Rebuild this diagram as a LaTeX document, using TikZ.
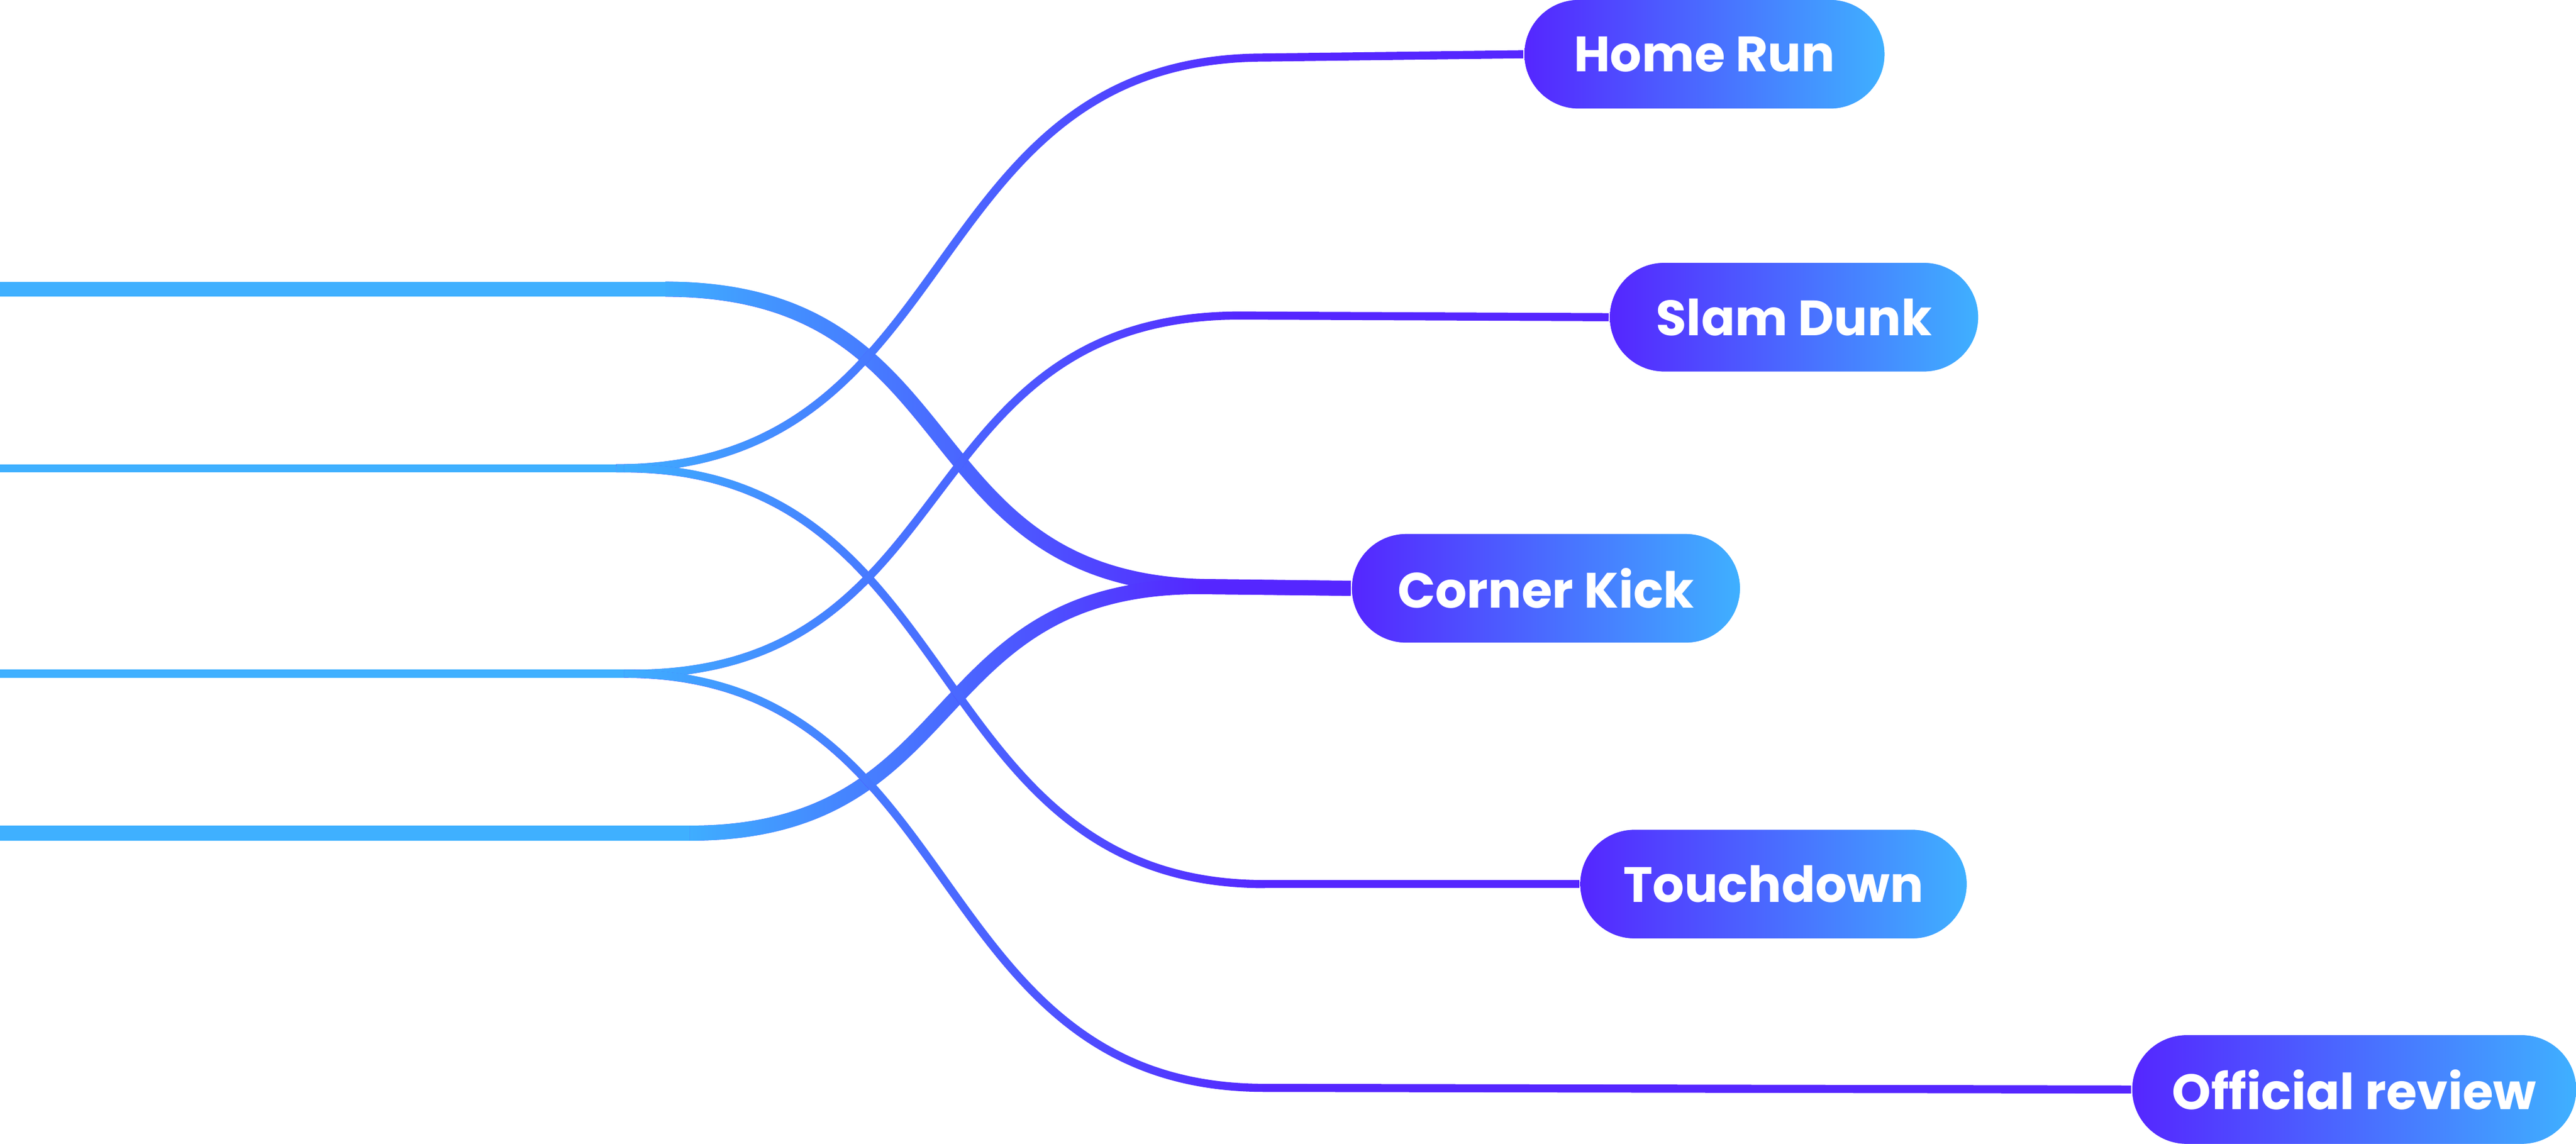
\documentclass[tikz,border=0pt]{standalone}
\usepackage{fontspec}
\setmainfont{Poppins}
\usetikzlibrary{fadings}
\definecolor{cb}{HTML}{3FB0FF}
\definecolor{cp}{HTML}{5526FF}
\tikzfading[name=fadeR, left color=transparent!0, right color=transparent!100]
\tikzset{
 pill/.style={rounded corners=0.33cm, minimum height=0.66cm, inner sep=0pt, left color=cp, right color=cb, text=white, font=\fontsize{8.6}{10}\selectfont\bfseries},
 thk/.style={line width=2.6pt},
 thn/.style={line width=1.4pt},
}
\newcommand{\scurve}[6]{% style, x0,y0, x1,y1, k
 \draw[#1,cp] (#2,#3) .. controls ({#2+#6},#3) and ({#4-#6},#5) .. (#4,#5);
 \draw[#1,cb,path fading=fadeR] (#2,#3) .. controls ({#2+#6},#3) and ({#4-#6},#5) .. (#4,#5);
}
\begin{document}
\begin{tikzpicture}[x=0.01cm,y=-0.01cm]
\useasboundingbox (0,0) rectangle (1568,696);
% nodes (positioned first, drawn later on top)
\path (1037.5,33) node[pill,minimum width=2.19cm] (hr) {Home Run};
\path (1092,193) node[pill,minimum width=2.24cm] (sd) {Slam Dunk};
\path (941,358) node[pill,minimum width=2.36cm] (ck) {Corner Kick};
\path (1079.5,538) node[pill,minimum width=2.35cm] (td) {Touchdown};
\path (1433,663) node[pill,minimum width=2.70cm] (or) {Official review};
\coordinate (a) at (0,176); \coordinate (b) at (0,285);
\coordinate (c) at (0,410); \coordinate (d) at (0,507);
% path 1: a -> corner kick
\draw[thk,cb] (a) -- (405,176);
\scurve{thk}{405}{176}{740}{357}{190}
\draw[thk,cp] (740,357) -- (ck.west);
% path 6: d -> corner kick
\draw[thk,cb] (d) -- (420,507);
\scurve{thk}{420}{507}{730}{357}{170}
\draw[thk,cp] (730,357) -- (ck.west);
% path 2: b -> home run
\draw[thn,cb] (b) -- (375,285);
\scurve{thn}{375}{285}{770}{35}{215}
\draw[thn,cp] (770,35) -- (hr.west);
% path 3: b -> touchdown
\scurve{thn}{380}{285}{770}{538}{210}
\draw[thn,cp] (770,538) -- (td.west);
% path 4: c -> slam dunk
\draw[thn,cb] (c) -- (385,410);
\scurve{thn}{385}{410}{755}{192}{205}
\draw[thn,cp] (755,192) -- (sd.west);
% path 5: c -> official review
\scurve{thn}{380}{410}{770}{662}{210}
\draw[thn,cp] (770,662) -- (or.west);
% redraw nodes on top
\path (1037.5,33) node[pill,minimum width=2.19cm] {Home Run};
\path (1092,193) node[pill,minimum width=2.24cm] {Slam Dunk};
\path (941,358) node[pill,minimum width=2.36cm] {Corner Kick};
\path (1079.5,538) node[pill,minimum width=2.35cm] {Touchdown};
\path (1433,663) node[pill,minimum width=2.70cm] {Official review};
\end{tikzpicture}
\end{document}
